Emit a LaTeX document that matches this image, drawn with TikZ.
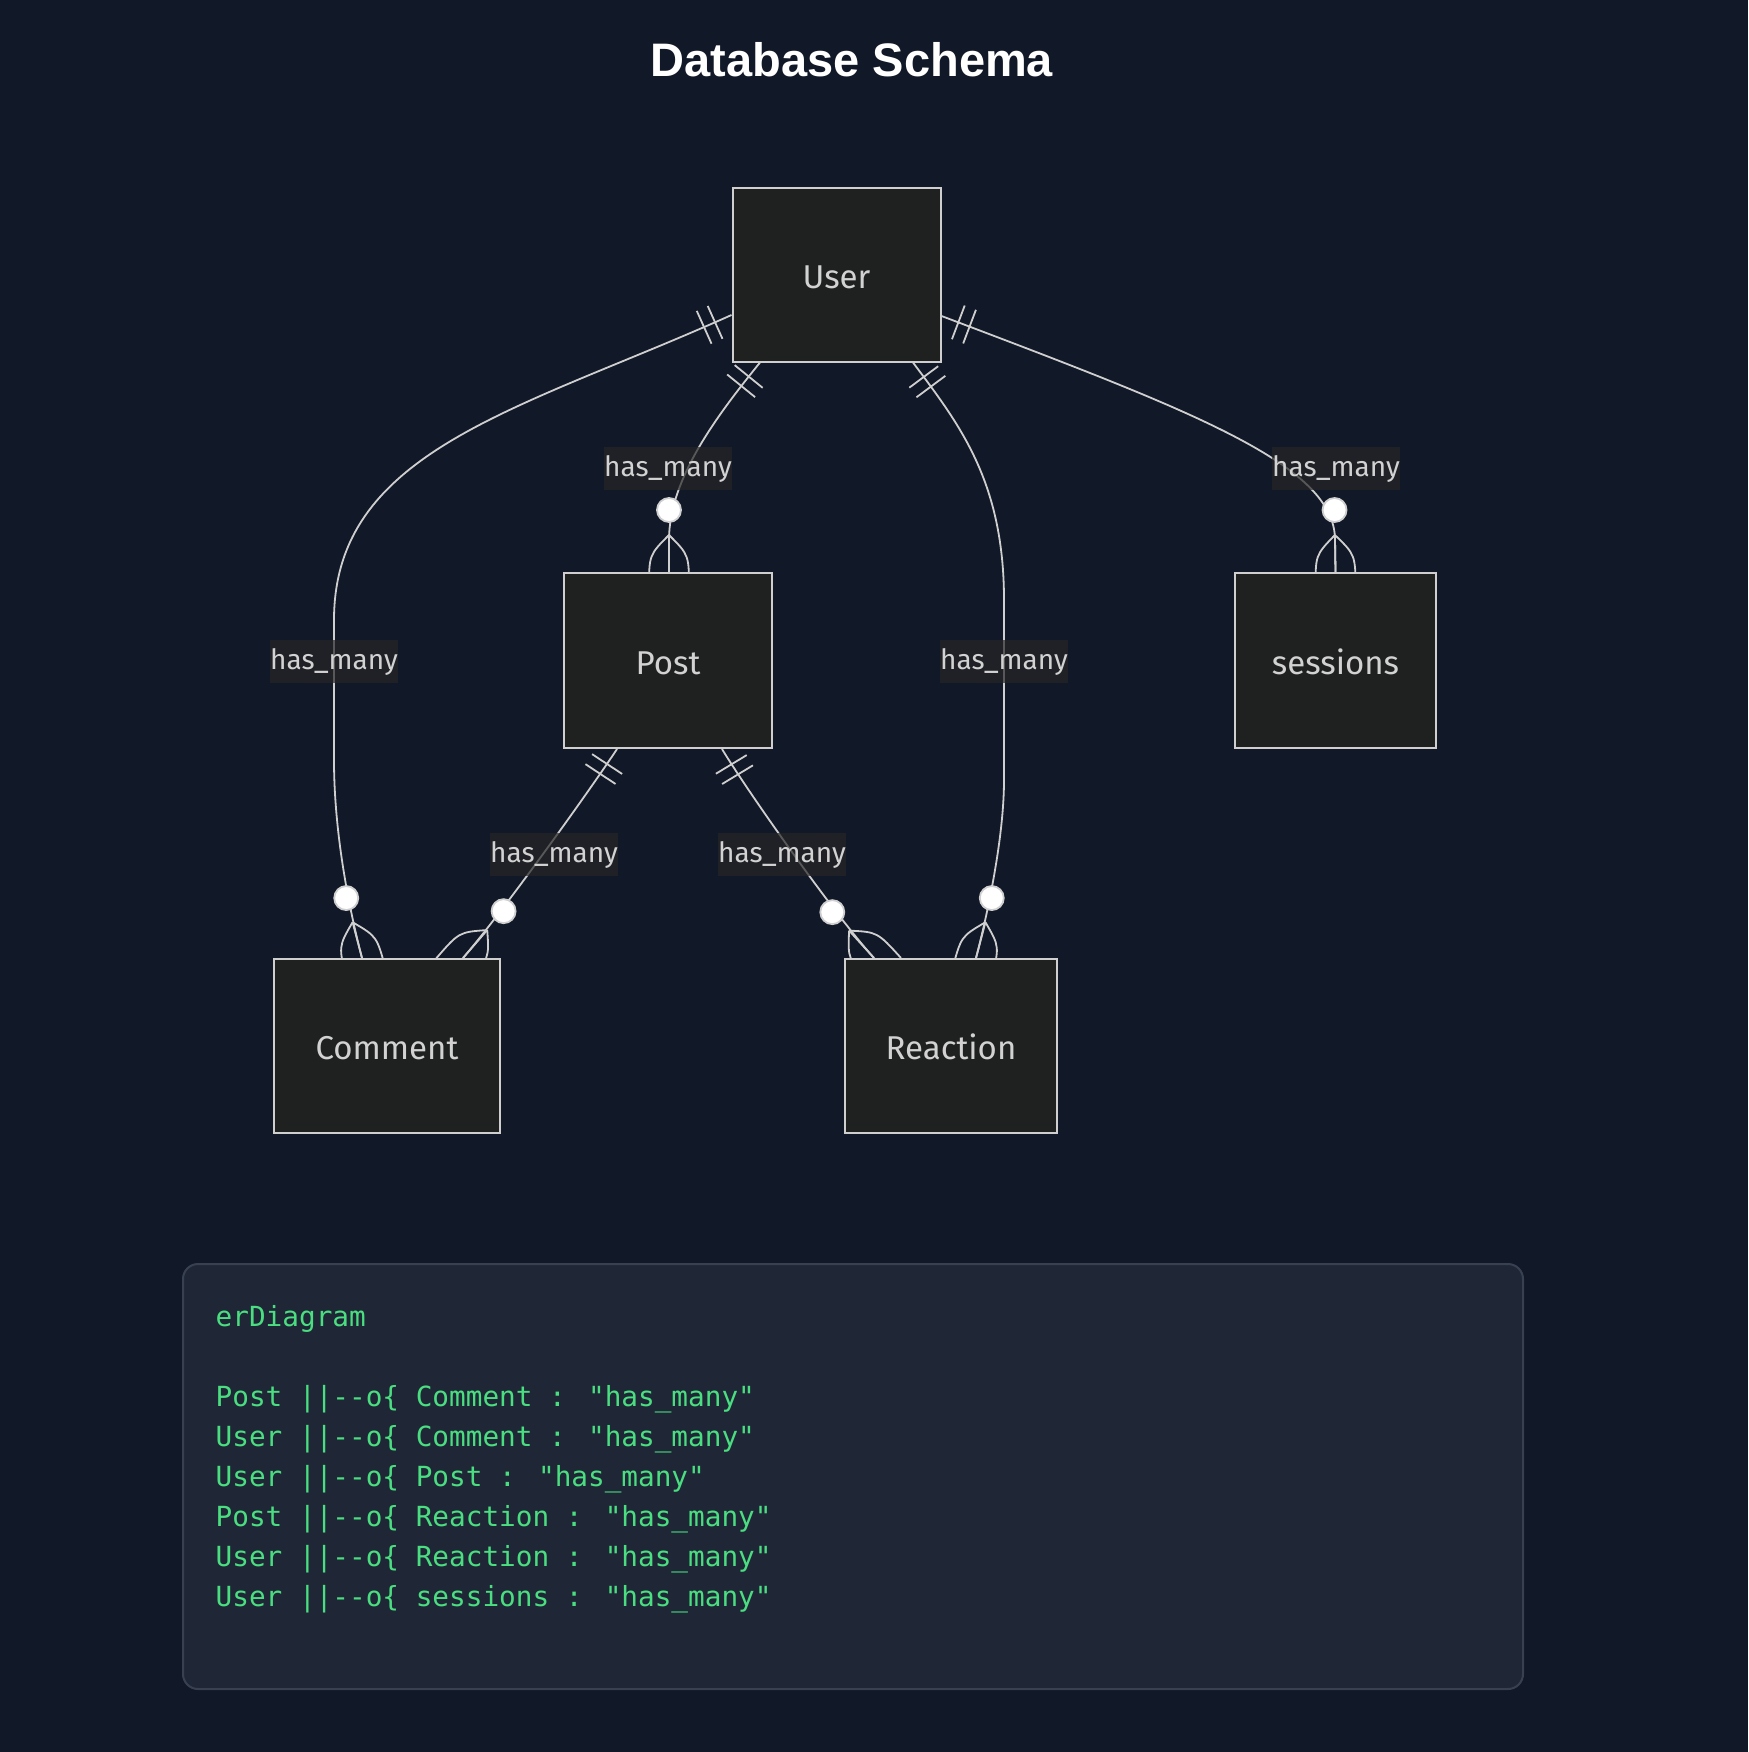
\documentclass[tikz,border=0pt]{standalone}
\usepackage{fontspec}
\usetikzlibrary{calc}
\newfontfamily\erfont{Fira Sans}
\newfontfamily\titlefont{Liberation Sans}
\newfontfamily\codefont{DejaVu Sans Mono}
\definecolor{pagebg}{HTML}{111827}
\definecolor{boxfill}{HTML}{1F2020}
\definecolor{linecol}{HTML}{CFCFCF}
\definecolor{textcol}{HTML}{D2D2D2}
\definecolor{labelbg}{HTML}{262626}
\definecolor{codebg}{HTML}{1F2737}
\definecolor{codeborder}{HTML}{374151}
\definecolor{codegreen}{HTML}{4ADE80}
\pgfdeclarelayer{back}
\pgfdeclarelayer{edges}
\pgfsetlayers{back,edges,main}
\tikzset{
  entity/.style={draw=linecol, line width=2pt, fill=boxfill, inner sep=0pt,
    text=textcol, font=\erfont\fontsize{33}{39}\selectfont,
    text height=27pt, text depth=0pt},
  edge/.style={draw=linecol, line width=1.8pt},
  elabel/.style={fill=labelbg, fill opacity=0.7, text opacity=1, text=textcol,
    inner sep=0pt, minimum width=128pt, minimum height=43pt,
    text height=24pt, text depth=6.6pt,
    font=\erfont\fontsize{28}{34}\selectfont},
  codeline/.style={anchor=base west, inner sep=0pt, text=codegreen,
    font=\codefont\fontsize{27.7}{34}\selectfont},
}
% two bars: #1 = end at the box, #2 = a point along the edge
\newcommand*\erone[2]{%
  \coordinate (mA) at ($(#1)!18pt!(#2)$);
  \coordinate (mB) at ($(#1)!30pt!(#2)$);
  \draw[edge] ($(mA)!18pt!90:(#2)$) -- ($(mA)!18pt!-90:(#2)$);
  \draw[edge] ($(mB)!18pt!90:(#2)$) -- ($(mB)!18pt!-90:(#2)$);
}
% zero or more: #1 = end at the box, #2 = a point back along the edge
\newcommand*\ermany[2]{%
  \coordinate (cc) at ($(#1)!37pt!(#2)$);
  \coordinate (kk) at ($(#1)!17pt!(#2)$);
  \coordinate (pp) at ($(#1)!-18pt!(#2)$);
  \draw[edge] (cc) .. controls ($(kk)!20pt!90:(#2)$) .. ($(pp)!20pt!90:(#2)$);
  \draw[edge] (cc) .. controls ($(kk)!20pt!-90:(#2)$) .. ($(pp)!20pt!-90:(#2)$);
  \draw[edge] (cc) -- (#1);
  \draw[edge, fill=white] ($(#1)!62pt!(#2)$) circle[radius=12pt];
}
\begin{document}
\begin{tikzpicture}[x=1pt, y=-1pt]
\begin{pgfonlayer}{back}
  \fill[pagebg] (0,0) rectangle (1748,1752);
\end{pgfonlayer}
\useasboundingbox (0,0) rectangle (1748,1752);

\node[text=white, font=\titlefont\bfseries\fontsize{47}{55}\selectfont] (title) at (852,60) {Database Schema};

% entities
\node[entity, minimum width=208pt, minimum height=173pt] (user) at (836.5,275) {User};
\node[entity, minimum width=208pt, minimum height=175pt] (post) at (668,660.5) {Post};
\node[entity, minimum width=201pt, minimum height=175pt] (sessions) at (1335.5,660.5) {sessions};
\node[entity, minimum width=226pt, minimum height=174pt] (comment) at (387,1046) {Comment};
\node[entity, minimum width=212pt, minimum height=174pt] (reaction) at (951,1046) {Reaction};

% end points
\coordinate (s1) at ([yshift=-40pt]user.west);
\coordinate (s2) at ([xshift=-76.5pt]user.south);
\coordinate (s3) at ([xshift=76.5pt]user.south);
\coordinate (s4) at ([yshift=-41pt]user.east);
\coordinate (s5) at ([xshift=-51pt]post.south);
\coordinate (s6) at ([xshift=54pt]post.south);
\coordinate (e1) at ([xshift=-25pt]comment.north);
\coordinate (e2) at ([xshift=1pt]post.north);
\coordinate (e3) at ([xshift=25pt]reaction.north);
\coordinate (e4) at (sessions.north);
\coordinate (e5) at ([xshift=76pt]comment.north);
\coordinate (e6) at ([xshift=-77pt]reaction.north);

\begin{pgfonlayer}{edges}
  % User -> Comment
  \draw[edge] (s1) .. controls (520,410) and (334,450) .. (334,620)
     -- (334,760) .. controls (334,840) and (352,920) .. (e1);
  \erone{s1}{520,410}
  \ermany{e1}{352,920}
  % User -> Post
  \draw[edge] (s2) .. controls (715,418) and (669,480) .. (669,540) -- (e2);
  \erone{s2}{715,418}
  \ermany{e2}{669,540}
  % User -> Reaction
  \draw[edge] (s3) .. controls (958,423) and (1004,480) .. (1004,600)
     -- (1004,780) .. controls (1004,840) and (986,920) .. (e3);
  \erone{s3}{958,423}
  \ermany{e3}{986,920}
  % User -> sessions
  \draw[edge] (s4) .. controls (1195,412) and (1335,465) .. (1335,540) -- (e4);
  \erone{s4}{1195,412}
  \ermany{e4}{1335,540}
  % Post -> Comment
  \draw[edge] (s5) .. controls (590,790) and (502,913) .. (e5);
  \erone{s5}{590,790}
  \ermany{e5}{502,913}
  % Post -> Reaction
  \draw[edge] (s6) .. controls (748,792) and (834,914) .. (e6);
  \erone{s6}{748,792}
  \ermany{e6}{834,914}
\end{pgfonlayer}

% relationship labels
\node[elabel] (l1) at (334,661) {has\_many};
\node[elabel] (l2) at (668,468) {has\_many};
\node[elabel] (l3) at (1004,661) {has\_many};
\node[elabel] (l4) at (1336,468) {has\_many};
\node[elabel] (l5) at (554,854) {has\_many};
\node[elabel] (l6) at (782,854) {has\_many};

% code block
\draw[fill=codebg, draw=codeborder, line width=2pt, rounded corners=15pt]
  (183,1264) rectangle (1523,1689);
\node[codeline] (c0) at (215.5,1326) {erDiagram};
\node[codeline] (c1) at (215.5,1406) {Post ||-{}-o\{ Comment : "has\_many"};
\node[codeline] (c2) at (215.5,1446) {User ||-{}-o\{ Comment : "has\_many"};
\node[codeline] (c3) at (215.5,1486) {User ||-{}-o\{ Post : "has\_many"};
\node[codeline] (c4) at (215.5,1526) {Post ||-{}-o\{ Reaction : "has\_many"};
\node[codeline] (c5) at (215.5,1566) {User ||-{}-o\{ Reaction : "has\_many"};
\node[codeline] (c6) at (215.5,1606) {User ||-{}-o\{ sessions : "has\_many"};
\end{tikzpicture}
\end{document}
